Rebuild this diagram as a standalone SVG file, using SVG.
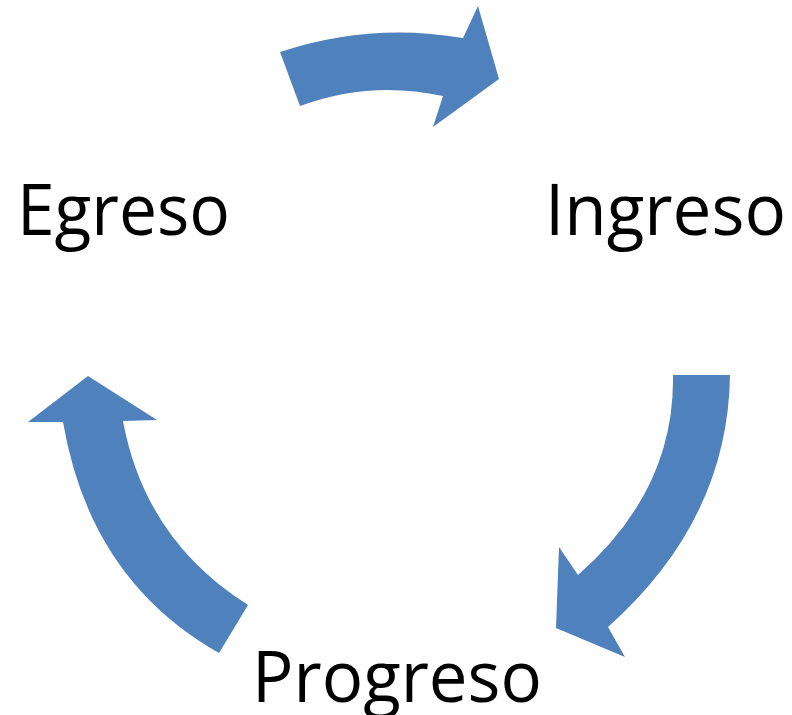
<svg xmlns="http://www.w3.org/2000/svg" width="792" height="715" viewBox="0 0 792 715">
<style>
.arrow{fill:#4F81BD;stroke:none}
.lbl{font-family:"Open Sans","Noto Sans","Liberation Sans",sans-serif;font-size:72px;fill:#000}
</style>
<rect width="792" height="715" fill="#fff"/>
<g id="connectors">
<path id="arrow-top" class="arrow" d="M280,52 Q370,22 463,38 L478,6 L499,79 L433,127 L443,96 Q370,80 300,106 Z"/>
<path id="arrow-right" class="arrow" d="M673,375 L730,375 Q728,520 608,627 L625,657 L556,628 L559,547 L578,575 Q675,490 673,375 Z"/>
<path id="arrow-left" class="arrow" d="M248,605 Q145,540 123,421 L157,420 L88,376 L28,422 L63,422 Q90,580 219,653 Z"/>
</g>
<g id="node-egreso"><text class="lbl" x="17" y="235" textLength="213" lengthAdjust="spacingAndGlyphs">Egreso</text></g>
<g id="node-ingreso"><text class="lbl" x="545" y="235" textLength="241" lengthAdjust="spacingAndGlyphs">Ingreso</text></g>
<g id="node-progreso"><text class="lbl" x="252" y="702" textLength="290" lengthAdjust="spacingAndGlyphs">Progreso</text></g>
</svg>
